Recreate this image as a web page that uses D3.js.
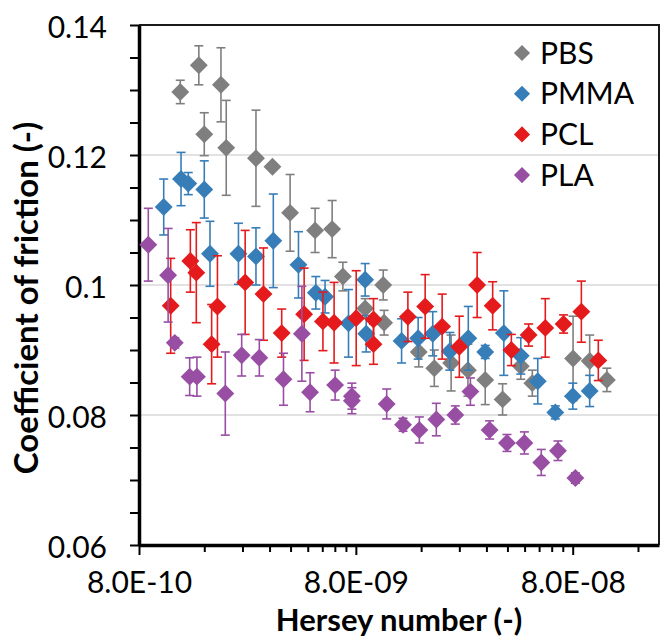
<!DOCTYPE html>
<html>
<head>
<meta charset="utf-8">
<script src="https://d3js.org/d3.v7.min.js"></script>
<style>
  body { margin: 0; background: #fff; }
  svg text { font-family: Lato, "Open Sans", sans-serif; fill: #000; }
</style>
</head>
<body>
<svg width="660" height="638"></svg>
<script>
// Hersey number (x), coefficient of friction (y), error (+/-)
const pbsH   = [1.24e-9, 1.51e-9, 1.60e-9, 1.91e-9, 2.02e-9, 2.77e-9, 3.30e-9, 3.98e-9, 5.19e-9, 6.22e-9, 6.97e-9, 8.83e-9, 1.07e-8, 1.08e-8, 1.56e-8, 1.84e-8, 2.20e-8, 2.63e-8, 3.16e-8, 3.80e-8, 4.61e-8, 5.21e-8, 8.03e-8, 9.58e-8, 1.15e-7];
const pbsCof = [0.1297, 0.1338, 0.1232, 0.1308, 0.1211, 0.1195, 0.1182, 0.1111, 0.1084, 0.1086, 0.1013, 0.0964, 0.1000, 0.0942, 0.0897, 0.0872, 0.0880, 0.0869, 0.0854, 0.0824, 0.0875, 0.0849, 0.0887, 0.0883, 0.0854];
const pbsErr = [0.0018, 0.0030, 0.0033, 0.0057, 0.0073, 0.0074, 0.0005, 0.0059, 0.0034, 0.0044, 0.0022, 0.0015, 0.0023, 0.0019, 0.0023, 0.0028, 0.0043, 0.0040, 0.0038, 0.0024, 0.0020, 0.0020, 0.0065, 0.0040, 0.0018];

const pmmaH   = [1.04e-9, 1.25e-9, 1.35e-9, 1.60e-9, 1.70e-9, 2.30e-9, 2.77e-9, 3.33e-9, 4.35e-9, 5.23e-9, 5.77e-9, 7.40e-9, 8.83e-9, 8.93e-9, 1.30e-8, 1.55e-8, 1.81e-8, 2.17e-8, 2.64e-8, 3.16e-8, 3.85e-8, 4.61e-8, 5.52e-8, 6.65e-8, 8.01e-8, 9.58e-8];
const pmmaCof = [0.1120, 0.1163, 0.1156, 0.1147, 0.1048, 0.1048, 0.1044, 0.1068, 0.1031, 0.0988, 0.0982, 0.0941, 0.1008, 0.0925, 0.0914, 0.0918, 0.0925, 0.0898, 0.0918, 0.0897, 0.0926, 0.0891, 0.0852, 0.0804, 0.0829, 0.0837];
const pmmaErr = [0.0043, 0.0041, 0.0017, 0.0044, 0.0050, 0.0047, 0.0044, 0.0072, 0.0051, 0.0025, 0.0025, 0.0052, 0.0025, 0.0028, 0.0034, 0.0032, 0.0034, 0.0029, 0.0049, 0.0010, 0.0065, 0.0028, 0.0035, 0.0010, 0.0020, 0.0024];

const pclH   = [1.12e-9, 1.38e-9, 1.47e-9, 1.73e-9, 1.84e-9, 2.47e-9, 3.00e-9, 3.64e-9, 4.62e-9, 5.64e-9, 6.35e-9, 8.03e-9, 9.65e-9, 9.65e-9, 1.39e-8, 1.67e-8, 2.00e-8, 2.40e-8, 2.90e-8, 3.42e-8, 4.17e-8, 5.01e-8, 5.98e-8, 7.26e-8, 8.77e-8, 1.05e-7];
const pclCof = [0.0968, 0.1037, 0.1019, 0.0909, 0.0967, 0.1004, 0.0986, 0.0926, 0.0955, 0.0944, 0.0942, 0.0949, 0.0947, 0.0909, 0.0951, 0.0967, 0.0936, 0.0905, 0.1000, 0.0968, 0.0900, 0.0923, 0.0934, 0.0940, 0.0959, 0.0884];
const pclErr = [0.0073, 0.0048, 0.0077, 0.0061, 0.0078, 0.0080, 0.0071, 0.0037, 0.0071, 0.0045, 0.0062, 0.0073, 0.0032, 0.0031, 0.0038, 0.0049, 0.0050, 0.0047, 0.0050, 0.0037, 0.0024, 0.0017, 0.0045, 0.0014, 0.0047, 0.0031];

const plaH   = [8.83e-10, 1.09e-9, 1.17e-9, 1.37e-9, 1.48e-9, 2.00e-9, 2.38e-9, 2.87e-9, 3.71e-9, 4.51e-9, 4.92e-9, 6.42e-9, 7.67e-9, 7.67e-9, 1.11e-8, 1.32e-8, 1.57e-8, 1.88e-8, 2.30e-8, 2.70e-8, 3.31e-8, 3.98e-8, 4.79e-8, 5.73e-8, 6.84e-8, 8.23e-8];
const plaCof = [0.1062, 0.1015, 0.0911, 0.0859, 0.0859, 0.0833, 0.0892, 0.0888, 0.0855, 0.0925, 0.0835, 0.0846, 0.0829, 0.0822, 0.0817, 0.0785, 0.0777, 0.0793, 0.0800, 0.0836, 0.0777, 0.0757, 0.0757, 0.0727, 0.0745, 0.0703];
const plaErr = [0.0056, 0.0072, 0.0008, 0.0029, 0.0030, 0.0064, 0.0032, 0.0028, 0.0040, 0.0073, 0.0030, 0.0023, 0.0020, 0.0020, 0.0023, 0.0010, 0.0020, 0.0025, 0.0014, 0.0021, 0.0014, 0.0013, 0.0017, 0.0020, 0.0015, 0.0008];

const seriesNames = ['PBS', 'PMMA', 'PCL', 'PLA'];
const seriesColors = ['#7f7f7f', '#377eb8', '#e41a1c', '#984ea3'];

const xTicks = [8e-10, 8e-9, 8e-8];
const yTicks = [0.06, 0.08, 0.1, 0.12, 0.14];
const yMinorTicks = d3.range(0.065, 0.14, 0.005).filter(v => Math.abs(v / 0.02 - Math.round(v / 0.02)) > 1e-6);

const series = seriesNames.map((name, i) => {
  const H = [pbsH, pmmaH, pclH, plaH][i];
  const C = [pbsCof, pmmaCof, pclCof, plaCof][i];
  const E = [pbsErr, pmmaErr, pclErr, plaErr][i];
  return { name, color: seriesColors[i], points: H.map((h, j) => ({ h, c: C[j], e: E[j] })) };
});

const svg = d3.select('svg');
const mLeft = 139, mRight = 659, mTop = 25, mBottom = 545;

const x = d3.scaleLog().domain([8e-10, 2e-7]).range([mLeft, mRight]);
const y = d3.scaleLinear().domain([0.06, 0.14]).range([mBottom, mTop]);

// gridlines
svg.append('g')
  .selectAll('line')
  .data([0.08, 0.1, 0.12])
  .enter()
  .append('line')
  .attr('x1', mLeft).attr('x2', mRight)
  .attr('y1', d => y(d)).attr('y2', d => y(d))
  .attr('stroke', '#d9d9d9')
  .attr('stroke-width', 1.5);

// frame top/right
svg.append('path')
  .attr('d', `M${mLeft},${mTop}H${mRight}V${mBottom}`)
  .attr('fill', 'none')
  .attr('stroke', '#1a1a1a')
  .attr('stroke-width', 2);

// minor x ticks: k * 8e-10 * 10^n
const xMinor = [];
xTicks.forEach(b => { for (let k = 2; k <= 9; k++) { const v = b * k; if (v < 2e-7) xMinor.push(v); } });

const fmtX = d => {
  const [m, e] = d.toExponential(1).split('e');
  const n = Math.abs(+e);
  return m + 'E' + (+e < 0 ? '-' : '+') + (n < 10 ? '0' + n : n);
};

const xAxis = d3.axisBottom(x).tickValues(xTicks).tickFormat(fmtX).tickSize(10).tickSizeOuter(0).tickPadding(17);
const gx = svg.append('g').attr('transform', `translate(0,${mBottom})`).call(xAxis);
svg.append('g').attr('transform', `translate(0,${mBottom})`)
  .call(d3.axisBottom(x).tickValues(xMinor).tickFormat('').tickSize(7).tickSizeOuter(0))
  .select('.domain').remove();

const yAxis = d3.axisLeft(y).tickValues(yTicks).tickFormat(d => String(+d.toFixed(2))).tickSize(9).tickSizeOuter(0).tickPadding(23);
const gy = svg.append('g').attr('transform', `translate(${mLeft},0)`).call(yAxis);
svg.append('g').attr('transform', `translate(${mLeft},0)`)
  .call(d3.axisLeft(y).tickValues(yMinorTicks).tickFormat('').tickSize(9).tickSizeOuter(0))
  .select('.domain').remove();

svg.selectAll('.tick line').attr('stroke', '#000').attr('stroke-width', 2);
[gx, gy].forEach(g => {
  g.select('.domain').attr('stroke', '#000').attr('stroke-width', 3.5);
  g.selectAll('.tick text').style('font-size', '30px').style('font-family', 'Lato, "Open Sans", sans-serif').attr('fill', '#000');
});
gy.selectAll('.tick text').attr('dy', '0.4em');
gx.selectAll('.tick text').attr('dy', '0.71em');

// series: error bars then diamonds
const diamond = d3.symbol().type(d3.symbolSquare).size(160);
series.forEach(s => {
  const g = svg.append('g');
  const eb = g.selectAll('.eb').data(s.points).enter().append('g')
    .attr('stroke', s.color).attr('stroke-width', 1.6);
  eb.append('line')
    .attr('x1', d => x(d.h)).attr('x2', d => x(d.h))
    .attr('y1', d => y(d.c - d.e)).attr('y2', d => y(d.c + d.e));
  eb.append('line')
    .attr('x1', d => x(d.h) - 4.5).attr('x2', d => x(d.h) + 4.5)
    .attr('y1', d => y(d.c + d.e)).attr('y2', d => y(d.c + d.e));
  eb.append('line')
    .attr('x1', d => x(d.h) - 4.5).attr('x2', d => x(d.h) + 4.5)
    .attr('y1', d => y(d.c - d.e)).attr('y2', d => y(d.c - d.e));
  g.selectAll('.pt').data(s.points).enter().append('path')
    .attr('d', diamond)
    .attr('transform', d => `translate(${x(d.h)},${y(d.c)}) rotate(45)`)
    .attr('fill', s.color);
});

// legend
const lg = svg.append('g');
series.forEach((s, i) => {
  const cy = 53 + i * 40.7;
  lg.append('path').attr('d', d3.symbol().type(d3.symbolSquare).size(130))
    .attr('transform', `translate(522,${cy}) rotate(45)`)
    .attr('fill', s.color);
  lg.append('text').attr('x', 540).attr('y', cy + 10.5)
    .style('font-size', '30px').text(s.name);
});

// axis titles
svg.append('text')
  .attr('x', (mLeft + mRight) / 2).attr('y', 631)
  .attr('text-anchor', 'middle')
  .style('font-size', '31px').style('font-weight', 'bold')
  .text('Hersey number (-)');

svg.append('text')
  .attr('transform', 'translate(38,298) rotate(-90)')
  .attr('text-anchor', 'middle')
  .style('font-size', '33px').style('font-weight', 'bold')
  .text('Coefficient of friction (-)');
</script>
</body>
</html>
